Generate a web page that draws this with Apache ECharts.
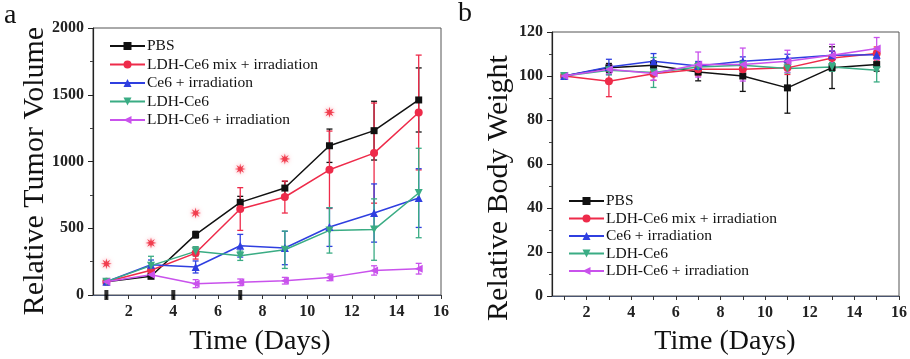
<!DOCTYPE html>
<html>
<head>
<meta charset="utf-8">
<script src="https://cdn.jsdelivr.net/npm/echarts@6/dist/echarts.min.js"></script>
<style>
  html, body { margin: 0; padding: 0; background: #fff; }
  #chart { width: 910px; height: 359px; }
</style>
</head>
<body>
<div id="chart"></div>
<script>
  // days of measurement
  const days = [1, 3, 5, 7, 9, 11, 13, 15]
  const groupNames = ['PBS', 'LDH-Ce6 mix + irradiation', 'Ce6 + irradiation', 'LDH-Ce6', 'LDH-Ce6 + irradiation']

  // panel a: relative tumor volume
  const volumePBS = [100, 140, 452, 694, 801, 1118, 1231, 1461]
  const volumeMix = [100, 185, 314, 644, 734, 938, 1063, 1367]
  const volumeCe6 = [100, 227, 210, 369, 352, 509, 614, 726]
  const volumeLdh = [100, 220, 327, 294, 339, 484, 490, 764]
  const volumeLdhIrr = [100, 152, 85, 95, 107, 132, 184, 197]
  const volumeErrPBS = [5, 15, 25, 45, 50, 125, 220, 240]
  const volumeErrMix = [5, 20, 45, 160, 120, 290, 375, 430]
  const volumeErrCe6 = [5, 35, 45, 85, 125, 145, 218, 220]
  const volumeErrLdh = [5, 70, 35, 35, 140, 170, 230, 335]
  const volumeErrLdhIrr = [10, 20, 30, 25, 25, 25, 35, 40]
  // significance marks (*) and injection days
  const starDays = [1, 3, 5, 7, 9, 11]
  const starValues = [234, 390, 614, 944, 1019, 1368]
  const injectionDays = [1, 4, 7]

  // panel b: relative body weight
  const weightPBS = [100, 103.7, 104.9, 101.8, 100.0, 94.6, 103.8, 105.2]
  const weightMix = [100, 97.6, 101, 103.1, 103.1, 103.7, 108.2, 110.2]
  const weightCe6 = [100, 104.1, 106.7, 104.6, 106.7, 107.9, 109.4, 109.7]
  const weightLdh = [100, 102.6, 101.6, 104.1, 104.9, 103.4, 104.1, 102.6]
  const weightLdhIrr = [100, 103.1, 101.1, 105.2, 105.2, 106.7, 109.4, 112.5]
  const weightErrPBS = [0.5, 2, 2, 4, 7, 11.5, 9.5, 3]
  const weightErrMix = [0.5, 7, 3, 3, 3, 3, 3, 3]
  const weightErrCe6 = [0.5, 3.5, 3.5, 2, 2, 2, 2, 2]
  const weightErrLdh = [0.5, 2, 6.8, 2, 2, 2, 2, 5.3]
  const weightErrLdhIrr = [0.5, 2, 3, 5.7, 7.5, 5, 5, 5]

  // axis tick labels
  const xTickDays = [1, 2, 3, 4, 5, 6, 7, 8, 9, 10, 11, 12, 13, 14, 15, 16]
  const xLabelDays = [2, 4, 6, 8, 10, 12, 14, 16]

  const FONT = 'Liberation Serif'
  const colors = ['#111111', '#ee2b4a', '#2f3fe0', '#3aac84', '#c952ec']
  const symbols = ['rect', 'circle', 'triangle', 'triangle', 'triangle']
  const rotates = [0, 0, 0, 180, 90]

  // asterisk shape for significance marks
  function starPath() {
    let d = ''
    for (let i = 0; i < 16; i++) {
      const r = i % 2 === 0 ? 10 : 4
      const a = Math.PI * i / 8
      d += (i === 0 ? 'M' : 'L') + (10 + r * Math.sin(a)).toFixed(2) + ' ' + (10 - r * Math.cos(a)).toFixed(2)
    }
    return 'path://' + d + 'Z'
  }

  function renderErr(params, api) {
    const x = api.value(0)
    const top = api.coord([x, api.value(2)])
    const bot = api.coord([x, api.value(1)])
    const w = 3
    const st = { stroke: api.visual('color'), lineWidth: 1.3 }
    return {
      type: 'group',
      children: [
        { type: 'line', shape: { x1: top[0], y1: top[1], x2: bot[0], y2: bot[1] }, style: st },
        { type: 'line', shape: { x1: top[0] - w, y1: top[1], x2: top[0] + w, y2: top[1] }, style: st },
        { type: 'line', shape: { x1: bot[0] - w, y1: bot[1], x2: bot[0] + w, y2: bot[1] }, style: st }
      ]
    }
  }

  function makeGroup(panel, idx, values, errs) {
    const color = colors[idx]
    return [
      {
        name: 'err' + panel + idx,
        type: 'custom',
        xAxisIndex: panel,
        yAxisIndex: panel,
        renderItem: renderErr,
        itemStyle: { color: color },
        z: 3,
        silent: true,
        data: days.map((d, i) => [d, values[i] - errs[i], values[i] + errs[i]])
      },
      {
        name: groupNames[idx],
        type: 'line',
        xAxisIndex: panel,
        yAxisIndex: panel,
        symbol: symbols[idx],
        symbolRotate: rotates[idx],
        symbolSize: idx === 0 ? 7 : 8,
        showSymbol: true,
        lineStyle: { color: color, width: 1.5 },
        itemStyle: { color: color },
        z: 4,
        data: days.map((d, i) => [d, values[i]])
      }
    ]
  }

  function xAxisFor(idx, min) {
    return {
      type: 'value',
      gridIndex: idx,
      min: min,
      max: 16,
      axisLine: { onZero: false, lineStyle: { color: '#4a5570', width: 1.2 } },
      axisTick: { show: true, customValues: xTickDays, length: 4, lineStyle: { color: '#333' } },
      axisLabel: {
        customValues: xLabelDays, margin: 9,
        fontFamily: FONT, fontSize: 16, fontWeight: 'bold', color: '#222'
      },
      splitLine: { show: false }
    }
  }

  function yAxisFor(idx, max, interval) {
    return {
      type: 'value',
      gridIndex: idx,
      min: 0,
      max: max,
      interval: interval,
      axisLine: { show: true, lineStyle: { color: '#222', width: 1.2 } },
      axisTick: { show: true, length: 5, lineStyle: { color: '#222' } },
      minorTick: { show: true, splitNumber: 2, length: 3, lineStyle: { color: '#444' } },
      axisLabel: {
        margin: 9, fontFamily: FONT, fontSize: 16, fontWeight: 'bold', color: '#222',
        formatter: v => String(v)
      },
      splitLine: { show: false }
    }
  }

  function legendFor(left, top, gap) {
    return {
      orient: 'vertical',
      left: left,
      top: top,
      data: groupNames,
      itemWidth: 35,
      itemHeight: 10,
      itemGap: gap,
      selectedMode: false,
      textStyle: { fontFamily: FONT, fontSize: 15.5, color: '#111', padding: [0, 0, 0, -3] }
    }
  }

  const volumeSets = [volumePBS, volumeMix, volumeCe6, volumeLdh, volumeLdhIrr]
  const volumeErrSets = [volumeErrPBS, volumeErrMix, volumeErrCe6, volumeErrLdh, volumeErrLdhIrr]
  const weightSets = [weightPBS, weightMix, weightCe6, weightLdh, weightLdhIrr]
  const weightErrSets = [weightErrPBS, weightErrMix, weightErrCe6, weightErrLdh, weightErrLdhIrr]

  let series = []
  for (let i = 0; i < 5; i++) {
    series = series.concat(makeGroup(0, i, volumeSets[i], volumeErrSets[i]))
  }
  for (let i = 0; i < 5; i++) {
    series = series.concat(makeGroup(1, i, weightSets[i], weightErrSets[i]))
  }
  series.push({
    name: 'stars',
    type: 'scatter',
    xAxisIndex: 0,
    yAxisIndex: 0,
    symbol: starPath(),
    symbolSize: 11,
    itemStyle: { color: '#ee1c2e', shadowBlur: 4, shadowColor: 'rgba(255,120,140,0.9)' },
    z: 5,
    data: starDays.map((d, i) => [d, starValues[i]])
  })
  series.push({
    name: 'injection',
    type: 'scatter',
    xAxisIndex: 0,
    yAxisIndex: 0,
    symbol: 'rect',
    symbolSize: [4, 10],
    clip: false,
    itemStyle: { color: '#000' },
    z: 6,
    data: injectionDays.map(d => [d, 0])
  })

  const chart = echarts.init(document.getElementById('chart'), null, { renderer: 'canvas' })
  const option = {
    animation: false,
    backgroundColor: '#fff',
    grid: [
      { left: 93, right: 469, top: 28, bottom: 64, show: true, borderColor: '#555', borderWidth: 1 },
      { left: 552, right: 11, top: 32, bottom: 63, show: true, borderColor: '#555', borderWidth: 1 }
    ],
    xAxis: [xAxisFor(0, 0.4), xAxisFor(1, 0.45)],
    yAxis: [yAxisFor(0, 2000, 500), yAxisFor(1, 120, 20)],
    legend: [legendFor(104, 33, 2.5), legendFor(563, 188, 1.5)],
    graphic: [
      { type: 'text', x: 4, y: 2, style: { text: 'a', font: '28px "Liberation Serif"', fill: '#111' } },
      { type: 'text', x: 458, y: 0, style: { text: 'b', font: '28px "Liberation Serif"', fill: '#111' } },
      {
        type: 'text', x: 35, y: 171, rotation: Math.PI / 2,
        style: { text: 'Relative Tumor Volume', font: '30px "Liberation Serif"', fill: '#111', textAlign: 'center', textVerticalAlign: 'middle' }
      },
      {
        type: 'text', x: 499, y: 188, rotation: Math.PI / 2,
        style: { text: 'Relative Body Weight', font: '30px "Liberation Serif"', fill: '#111', textAlign: 'center', textVerticalAlign: 'middle' }
      },
      {
        type: 'text', x: 260, y: 342,
        style: { text: 'Time (Days)', font: '28px "Liberation Serif"', fill: '#111', textAlign: 'center', textVerticalAlign: 'middle' }
      },
      {
        type: 'text', x: 725, y: 342,
        style: { text: 'Time (Days)', font: '28px "Liberation Serif"', fill: '#111', textAlign: 'center', textVerticalAlign: 'middle' }
      }
    ],
    series: series
  }
  chart.setOption(option)
</script>
</body>
</html>
